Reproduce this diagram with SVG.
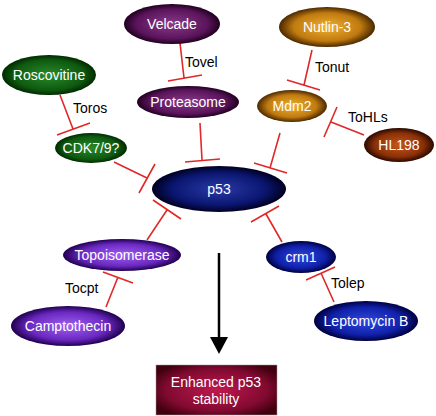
<svg xmlns="http://www.w3.org/2000/svg" width="436" height="416" viewBox="0 0 436 416">
<defs>
<radialGradient id="gGreen" cx="0.5" cy="0.5" r="0.5"><stop offset="0" stop-color="#2a8a2a"/><stop offset="0.75" stop-color="#0f5a10"/><stop offset="1" stop-color="#002a00"/></radialGradient>
<radialGradient id="gPlum" cx="0.5" cy="0.5" r="0.5"><stop offset="0" stop-color="#8a3a8a"/><stop offset="0.75" stop-color="#5a145a"/><stop offset="1" stop-color="#200020"/></radialGradient>
<radialGradient id="gOrange" cx="0.5" cy="0.5" r="0.5"><stop offset="0" stop-color="#f0b030"/><stop offset="0.7" stop-color="#c07a10"/><stop offset="1" stop-color="#4a2800"/></radialGradient>
<radialGradient id="gBrown" cx="0.5" cy="0.5" r="0.5"><stop offset="0" stop-color="#c8561a"/><stop offset="0.7" stop-color="#8a3008"/><stop offset="1" stop-color="#2a0800"/></radialGradient>
<radialGradient id="gViolet" cx="0.5" cy="0.5" r="0.5"><stop offset="0" stop-color="#a060f0"/><stop offset="0.7" stop-color="#6a28c0"/><stop offset="1" stop-color="#200050"/></radialGradient>
<radialGradient id="gNavy" cx="0.5" cy="0.5" r="0.5"><stop offset="0" stop-color="#2a3aa8"/><stop offset="0.7" stop-color="#0a1670"/><stop offset="1" stop-color="#000020"/></radialGradient>
<radialGradient id="gBlue" cx="0.5" cy="0.5" r="0.5"><stop offset="0" stop-color="#3048e0"/><stop offset="0.7" stop-color="#1020a8"/><stop offset="1" stop-color="#000040"/></radialGradient>
<radialGradient id="gBox" cx="0.5" cy="0.5" r="0.6"><stop offset="0" stop-color="#c0184e"/><stop offset="0.7" stop-color="#800a30"/><stop offset="1" stop-color="#40000e"/></radialGradient>
</defs>
<style>
.lbl{font-family:"Liberation Sans",Arial,sans-serif;font-size:14px;fill:#ffffff;text-anchor:middle}
.edge{font-family:"Liberation Sans",Arial,sans-serif;font-size:14px;fill:#000000}
.inh{stroke:#e02828;stroke-width:1.6;fill:none;stroke-linecap:butt}
</style>
<rect width="436" height="416" fill="#ffffff"/>
<g id="connectors">
<path class="inh" d="M180,43 L184,78 M168,81 L202,75"/>
<path class="inh" d="M60,95 L73,129 M57,135 L90,123"/>
<path class="inh" d="M114,162 L147,178 M139,193 L155,164"/>
<path class="inh" d="M200,123 L202,160 M185,162 L220,159"/>
<path class="inh" d="M280,133 L270,168 M254,163 L287,173"/>
<path class="inh" d="M312,50 L304,85 M287,80 L320,90"/>
<path class="inh" d="M364,135 L331,122 M324,137 L337,107"/>
<path class="inh" d="M147,240 L167,210 M153,200 L181,219"/>
<path class="inh" d="M282,242 L266,214 M251,222 L279,206"/>
<path class="inh" d="M106,307 L118,277 M103,272 L133,283"/>
<path class="inh" d="M334,302 L321,273 M306,280 L335,267"/>
<line x1="219" y1="253" x2="219" y2="338" stroke="#000" stroke-width="2.5"/>
<polygon points="210,337 228,337 219,354" fill="#000"/>
<text class="edge" x="185" y="67">Tovel</text>
<text class="edge" x="73" y="113">Toros</text>
<text class="edge" x="315" y="72">Tonut</text>
<text class="edge" x="348" y="122">ToHLs</text>
<text class="edge" x="65" y="293">Tocpt</text>
<text class="edge" x="331" y="288">Tolep</text>
</g>
<g id="velcade"><ellipse cx="172" cy="24" rx="48" ry="20" fill="url(#gPlum)"/><text class="lbl" x="172" y="29">Velcade</text></g>
<g id="roscovitine"><ellipse cx="49" cy="75" rx="47" ry="20" fill="url(#gGreen)"/><text class="lbl" x="49" y="80">Roscovitine</text></g>
<g id="proteasome"><ellipse cx="188" cy="102" rx="51" ry="16" fill="url(#gPlum)"/><text class="lbl" x="188" y="107">Proteasome</text></g>
<g id="cdk"><ellipse cx="91" cy="148" rx="36" ry="15" fill="url(#gGreen)"/><text class="lbl" x="91" y="153">CDK7/9?</text></g>
<g id="nutlin"><ellipse cx="327" cy="27" rx="48" ry="20" fill="url(#gOrange)"/><text class="lbl" x="327" y="32">Nutlin-3</text></g>
<g id="mdm2"><ellipse cx="292" cy="106" rx="35" ry="16" fill="url(#gOrange)"/><text class="lbl" x="292" y="111">Mdm2</text></g>
<g id="hl198"><ellipse cx="399" cy="145" rx="35" ry="17" fill="url(#gBrown)"/><text class="lbl" x="399" y="150">HL198</text></g>
<g id="p53"><ellipse cx="219" cy="189" rx="67" ry="23" fill="url(#gNavy)"/><text class="lbl" x="219" y="194">p53</text></g>
<g id="topoisomerase"><ellipse cx="122" cy="255" rx="59" ry="16" fill="url(#gViolet)"/><text class="lbl" x="122" y="260">Topoisomerase</text></g>
<g id="camptothecin"><ellipse cx="68" cy="326" rx="57" ry="20" fill="url(#gViolet)"/><text class="lbl" x="68" y="331">Camptothecin</text></g>
<g id="crm1"><ellipse cx="301" cy="257" rx="35" ry="16" fill="url(#gBlue)"/><text class="lbl" x="301" y="262">crm1</text></g>
<g id="leptomycin"><ellipse cx="366" cy="321" rx="52" ry="20" fill="url(#gBlue)"/><text class="lbl" x="366" y="326">Leptomycin B</text></g>
<g id="stability"><rect x="156" y="365" width="121" height="50" fill="url(#gBox)" stroke="#999" stroke-width="0.5"/><text class="lbl" x="216" y="387">Enhanced p53</text><text class="lbl" x="216" y="404">stability</text></g>
</svg>
